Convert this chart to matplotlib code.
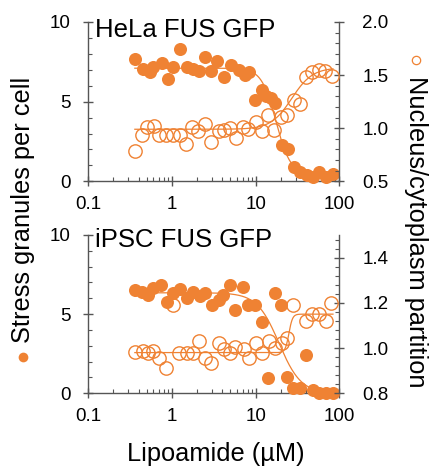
import numpy as np
import matplotlib
matplotlib.use("Agg")
import matplotlib.pyplot as plt
from matplotlib.lines import Line2D

plt.rcParams.update({
    "font.family": "Liberation Sans",
    "font.size": 13.5,
    "axes.linewidth": 1.0,
})

ORANGE = "#ef8233"
SPINE = "#555555"

# HeLa FUS GFP
hela_sg_x = [0.36, 0.45, 0.54, 0.60, 0.75, 0.89, 1.04, 1.25, 1.5, 1.8, 2.1, 2.45, 2.9, 3.5, 4.2,
             5.1, 6.3, 7.4, 8.4, 9.9, 11.8, 13.3, 15.1, 17.1, 20.4, 24.3, 28.4, 34.2, 40.6, 48, 57.5, 69, 83]
hela_sg_y = [7.68, 7.05, 6.84, 7.2, 7.4, 6.42, 7.16, 8.3, 7.16, 7.05, 6.94, 7.82, 6.94, 7.57, 6.57,
             7.33, 6.99, 6.7, 6.84, 5.1, 5.76, 5.38, 5.21, 4.9, 2.28, 2.0, 0.88, 0.6, 0.42, 0.28, 0.6, 0.28, 0.47]
hela_nc_x = [0.36, 0.44, 0.51, 0.61, 0.70, 0.84, 1.02, 1.25, 1.48, 1.73, 2.05, 2.5, 2.95, 3.6, 4.2, 4.9,
             5.9, 7.0, 8.0, 10, 11.9, 14, 16.8, 20, 23.6, 28.5, 33.5, 40.2, 47.5, 57, 68, 81]
hela_nc_y = [0.79, 0.94, 1.01, 1.02, 0.94, 0.94, 0.94, 0.94, 0.85, 1.01, 0.97, 1.04, 0.87, 0.97, 0.98, 1.0,
             0.91, 1.01, 0.99, 1.06, 0.97, 1.12, 0.98, 1.11, 1.12, 1.27, 1.23, 1.48, 1.53, 1.55, 1.54, 1.49]

# iPSC FUS GFP
ipsc_sg_x = [0.36, 0.44, 0.52, 0.6, 0.73, 0.88, 1.04, 1.25, 1.5, 1.78, 2.14, 2.5, 2.97, 3.6, 4.1, 5.0,
             5.7, 7.1, 8.2, 9.8, 11.8, 14.1, 17.1, 19.9, 24, 28.3, 34, 40.5, 48.5, 57, 70, 83]
ipsc_sg_y = [6.53, 6.42, 6.21, 6.63, 6.84, 5.75, 6.36, 6.57, 6.0, 6.42, 6.15, 6.36, 5.58, 5.9, 6.21, 6.84,
             5.24, 6.7, 5.58, 5.58, 4.52, 0.95, 6.36, 5.58, 1.05, 0.32, 0.32, 2.42, 0.21, 0.0, 0.0, 0.04]
ipsc_nc_x = [0.36, 0.45, 0.52, 0.6, 0.7, 0.86, 1.04, 1.23, 1.5, 1.78, 2.1, 2.5, 2.9, 3.6, 4.2, 4.9,
             5.7, 7.3, 8.4, 10.1, 12, 14.5, 17, 20.4, 24, 28.3, 40.5, 47.8, 57, 69, 80]
ipsc_nc_y = [0.983, 0.986, 0.978, 0.986, 0.954, 0.913, 1.19, 0.978, 0.978, 0.978, 1.03, 0.958, 0.935, 1.023,
             0.998, 0.978, 1.003, 0.997, 0.956, 1.022, 0.978, 1.03, 1.0, 1.022, 1.045, 1.19, 1.12, 1.15, 1.15, 1.12, 1.2]

# Hill fits (start, end, EC50, hill slope)
hela_sg_fit = (7.1, 0.42, 17.5, 5.0)
hela_nc_fit = (0.99, 1.57, 27.0, 3.5)
ipsc_sg_fit = (6.35, 0.0, 19.0, 3.3)
ipsc_nc_fit = (0.98, 1.15, 25.0, 20.0)
FIT_RANGE = (0.36, 84)


def hill(x, fit):
    a, b, ec50, n = fit
    return b + (a - b) / (1 + (x / ec50) ** n)


def style_axis(ax, ax2, y2lim, y2major, y2minor):
    ax.set_xscale("log")
    ax.set_xlim(0.1, 100)
    ax.set_ylim(0, 10)
    ax.set_yticks([0, 5, 10])
    ax.set_yticks(np.arange(0, 11, 1), minor=True)
    ax.set_xticks([0.1, 1, 10, 100], ["0.1", "1", "10", "100"])
    ax2.set_ylim(*y2lim)
    ax2.set_yticks(y2major, [f"{v:.1f}" for v in y2major])
    ax2.set_yticks(y2minor, minor=True)
    for a in (ax, ax2):
        a.spines["top"].set_visible(False)
        for s in a.spines.values():
            s.set_color(SPINE)
    ax.spines["right"].set_visible(False)
    ax2.spines["left"].set_visible(False)
    ax2.spines["bottom"].set_visible(False)
    ax.tick_params(which="major", direction="inout", length=7, width=1.0, color=SPINE, labelsize=13.5)
    ax.tick_params(which="minor", direction="in", length=3, width=0.8, color=SPINE)
    ax.tick_params(axis="y", which="major", pad=9)
    ax.tick_params(axis="x", which="major", pad=7)
    ax2.tick_params(which="major", direction="inout", length=7, width=1.0, color=SPINE, labelsize=13.5, pad=13)
    ax2.tick_params(which="minor", direction="in", length=3, width=0.8, color=SPINE)


def panel(ax, sg_x, sg_y, nc_x, nc_y, sg_fit, nc_fit, y2lim, y2major, y2minor, title, title_y):
    ax2 = ax.twinx()
    xf = np.logspace(np.log10(FIT_RANGE[0]), np.log10(FIT_RANGE[1]), 300)
    ax.plot(xf, hill(xf, sg_fit), color=ORANGE, lw=0.9, zorder=2)
    ax2.plot(xf, hill(xf, nc_fit), color=ORANGE, lw=0.9, zorder=2)
    ax.plot(sg_x, sg_y, "o", color=ORANGE, ms=9.4, mec="none", clip_on=False, zorder=3)
    ax2.plot(nc_x, nc_y, "o", mfc="none", mec=ORANGE, mew=1.0, ms=9.6, clip_on=False, zorder=3)
    style_axis(ax, ax2, y2lim, y2major, y2minor)
    fig.text(95 / 432, title_y, title, fontsize=18.5, ha="left", va="baseline")
    return ax2


fig = plt.figure(figsize=(4.32, 4.68), dpi=100)
ax_top = fig.add_axes([0.2044, 0.6126, 0.5810, 0.3404])
ax_bot = fig.add_axes([0.2044, 0.1596, 0.5810, 0.3383])

panel(ax_top, hela_sg_x, hela_sg_y, hela_nc_x, hela_nc_y, hela_sg_fit, hela_nc_fit,
      (0.5, 2.0), [0.5, 1.0, 1.5, 2.0], np.arange(0.5, 2.01, 0.1), "HeLa FUS GFP", 1 - 37.3 / 468)
panel(ax_bot, ipsc_sg_x, ipsc_sg_y, ipsc_nc_x, ipsc_nc_y, ipsc_sg_fit, ipsc_nc_fit,
      (0.8, 1.5), [0.8, 1.0, 1.2, 1.4], np.arange(0.8, 1.501, 0.04), "iPSC FUS GFP", 1 - 247.3 / 468)

fig.text(216 / 432, 1 - 461.5 / 468, "Lipoamide (µM)", fontsize=18.3, ha="center", va="baseline")
fig.text(23 / 432, 1 - 210 / 468, "Stress granules per cell", fontsize=18.3,
         rotation=90, ha="center", va="center")
fig.text(416 / 432, 1 - 232 / 468, "Nucleus/cytoplasm partition", fontsize=18.3,
         rotation=-90, ha="center", va="center")
fig.add_artist(Line2D([23.3 / 432], [1 - 356.7 / 468], marker="o", ms=7, color=ORANGE, mec="none",
                      transform=fig.transFigure))
fig.add_artist(Line2D([416 / 432], [1 - 60 / 468], marker="o", ms=6, mfc="none", mec=ORANGE, mew=0.9,
                      transform=fig.transFigure))

fig.savefig("out.png", dpi=100)
